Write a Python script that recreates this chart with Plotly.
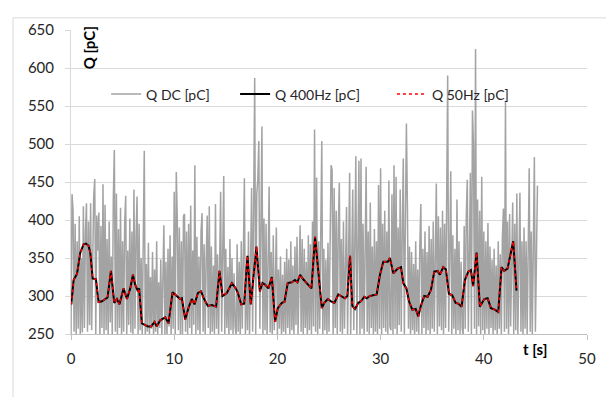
import plotly.graph_objects as go

# ---- data ----
q_dc = [
    250, 434, 412, 253, 395, 248, 372, 257, 405, 246,
    350, 252, 418, 258, 385, 422, 253, 398, 262, 422,
    255, 380, 430, 454, 250, 406, 360, 410, 244, 392,
    258, 447, 250, 420, 255, 375, 246, 398, 265, 352,
    248, 428, 492, 253, 435, 250, 388, 258, 416, 244,
    372, 253, 395, 432, 248, 360, 262, 402, 252, 385,
    246, 440, 257, 378, 431, 250, 395, 255, 350, 248,
    380, 491, 244, 342, 253, 370, 246, 325, 257, 358,
    244, 335, 253, 372, 248, 318, 258, 348, 246, 330,
    393, 250, 345, 244, 362, 260, 380, 248, 352, 257,
    437, 246, 463, 402, 255, 390, 250, 372, 244, 405,
    408, 253, 385, 248, 395, 258, 419, 246, 360, 262,
    472, 250, 378, 255, 352, 244, 385, 409, 253, 368,
    248, 348, 406, 258, 418, 246, 365, 253, 340, 250,
    421, 257, 355, 244, 372, 437, 253, 345, 458, 248,
    362, 258, 338, 246, 375, 255, 350, 250, 330, 260,
    248, 368, 253, 345, 244, 372, 257, 352, 455, 250,
    340, 255, 385, 246, 398, 442, 253, 375, 587, 248,
    434, 453, 504, 257, 453, 523, 250, 402, 255, 395,
    246, 372, 444, 252, 358, 244, 380, 255, 345, 390,
    248, 335, 257, 352, 244, 328, 253, 345, 250, 362,
    258, 348, 248, 372, 255, 340, 246, 365, 262, 378,
    250, 352, 393, 253, 375, 248, 362, 258, 345, 246,
    380, 255, 368, 250, 398, 260, 519, 253, 456, 248,
    372, 257, 385, 504, 246, 362, 255, 348, 250, 370,
    253, 392, 472, 466, 248, 442, 258, 412, 246, 388,
    449, 253, 375, 248, 398, 257, 365, 417, 250, 380,
    462, 246, 372, 440, 255, 392, 484, 250, 385, 478,
    248, 481, 257, 395, 246, 372, 470, 253, 385, 250,
    423, 258, 365, 248, 388, 253, 372, 244, 446, 257,
    468, 250, 395, 258, 412, 253, 385, 248, 452, 260,
    255, 434, 250, 472, 257, 457, 246, 390, 262, 440,
    253, 385, 481, 248, 372, 527, 415, 257, 365, 246,
    358, 255, 342, 244, 372, 253, 335, 248, 368, 421,
    250, 362, 258, 385, 246, 358, 255, 392, 248, 375,
    257, 398, 253, 385, 448, 250, 405, 260, 390, 255,
    412, 250, 395, 258, 402, 590, 253, 385, 464, 248,
    380, 257, 362, 246, 427, 255, 372, 250, 345, 258,
    248, 392, 257, 405, 453, 253, 398, 462, 250, 544,
    500, 257, 625, 250, 427, 260, 412, 248, 457, 255,
    385, 246, 372, 257, 396, 250, 365, 258, 348, 248,
    362, 255, 340, 246, 372, 257, 355, 250, 378, 415,
    253, 557, 257, 398, 248, 408, 260, 385, 423, 250,
    395, 255, 435, 250, 380, 436, 253, 372, 248, 390,
    257, 372, 250, 395, 468, 253, 385, 248, 372, 483,
    253, 398, 445,
]
t_dc = [i / 10 for i in range(len(q_dc))]  # sample times, 0.1 s step

t_ac = [
    0.03, 0.25, 0.58, 0.9, 1.22, 1.45, 1.7, 1.87, 2.1, 2.42,
    2.67, 3.0, 3.54, 3.87, 4.19, 4.45, 4.7, 5.09, 5.42, 5.74,
    6.0, 6.22, 6.49, 6.6, 6.87, 7.19, 7.45, 7.77, 8.1, 8.3,
    8.64, 9.13, 9.45, 9.84, 10.16, 10.58, 10.74, 11.07, 11.4, 11.7,
    11.97, 12.3, 12.6, 12.9, 13.26, 13.65, 14.06, 14.39, 14.68, 15.1,
    15.59, 15.97, 16.17, 16.49, 16.78, 17.1, 17.42, 17.68, 17.97, 18.3,
    18.55, 18.8, 19.13, 19.46, 19.78, 20.04, 20.43, 20.68, 21.0, 21.4,
    21.7, 21.94, 22.2, 22.5, 22.85, 23.3, 23.65, 23.97, 24.3, 24.55,
    24.88, 25.2, 25.52, 25.9, 26.23, 26.55, 26.78, 27.04, 27.26, 27.52,
    27.84, 28.1, 28.42, 28.65, 28.97, 29.3, 29.62, 29.94, 30.26, 30.7,
    30.9, 31.23, 31.66, 31.98, 32.2, 32.5, 32.75, 33.07, 33.4, 33.65,
    33.9, 34.23, 34.56, 34.88, 35.2, 35.53, 35.75, 36.07, 36.33, 36.62,
    36.94, 37.27, 37.52, 37.85, 38.17, 38.49, 38.75, 38.97, 39.3, 39.62,
    40.04, 40.37, 40.69, 41.07, 41.4, 41.72, 41.97, 42.3, 42.62, 42.85,
    43.17,
]
q_400hz = [
    289, 321, 329, 357, 368, 369, 366, 357, 323, 322,
    292, 293, 298, 333, 291, 296, 289, 310, 296, 310,
    328, 315, 306, 310, 264, 262, 260, 260, 266, 260,
    268, 272, 264, 305, 301, 296, 297, 269, 285, 296,
    289, 304, 306, 296, 287, 288, 286, 333, 300, 304,
    317, 310, 304, 289, 290, 353, 289, 321, 365, 306,
    317, 315, 310, 325, 266, 284, 291, 292, 317, 318,
    321, 318, 328, 322, 317, 310, 378, 332, 284, 291,
    296, 293, 291, 302, 300, 297, 300, 353, 287, 283,
    291, 293, 299, 297, 300, 301, 302, 328, 345, 345,
    350, 330, 336, 338, 317, 310, 293, 282, 283, 273,
    287, 300, 299, 308, 332, 333, 328, 338, 335, 303,
    301, 291, 290, 286, 321, 332, 334, 313, 357, 286,
    296, 297, 284, 282, 279, 338, 333, 336, 359, 372,
    307,
]
q_50hz = [
    289, 321, 329, 357, 368, 369, 366, 357, 323, 322,
    292, 293, 298, 333, 291, 296, 289, 310, 296, 310,
    328, 315, 306, 310, 264, 262, 260, 260, 266, 260,
    268, 272, 264, 305, 301, 296, 297, 269, 285, 296,
    289, 304, 306, 296, 287, 288, 286, 333, 300, 304,
    317, 310, 304, 289, 290, 353, 289, 321, 365, 306,
    317, 315, 310, 325, 266, 284, 291, 292, 317, 318,
    321, 318, 328, 322, 317, 310, 378, 332, 284, 291,
    296, 293, 291, 302, 300, 297, 300, 353, 287, 283,
    291, 293, 299, 297, 300, 301, 302, 328, 345, 345,
    350, 330, 336, 338, 317, 310, 293, 282, 283, 273,
    287, 300, 299, 308, 332, 333, 328, 338, 335, 303,
    301, 291, 290, 286, 321, 332, 334, 313, 357, 286,
    296, 297, 284, 282, 279, 338, 333, 336, 359, 372,
    307,
]

x_ticks = [0, 10, 20, 30, 40, 50]
y_ticks = [250, 300, 350, 400, 450, 500, 550, 600, 650]

FONT = "Lato"
TXT = "#262626"

fig = go.Figure()
fig.add_trace(go.Scatter(x=t_dc, y=q_dc, mode="lines", name="Q DC [pC]",
                         line=dict(color="#a3a3a3", width=1.5), legend="legend",
                         showlegend=True))
fig.add_trace(go.Scatter(x=t_ac, y=q_400hz, mode="lines", name="Q 400Hz [pC]",
                         line=dict(color="#000000", width=2), legend="legend2",
                         showlegend=True))
fig.add_trace(go.Scatter(x=t_ac, y=q_50hz, mode="lines", name="Q 50Hz [pC]",
                         line=dict(color="#ff0000", width=1.5, dash="3px,3px"),
                         legend="legend3", showlegend=True))

leg_common = dict(orientation="h", yanchor="middle", xanchor="left",
                  bgcolor="rgba(0,0,0,0)", font=dict(family=FONT, size=14, color=TXT),
                  itemwidth=30)

fig.update_layout(
    width=606, height=389,
    margin=dict(l=63, r=27, t=13, b=63),
    showlegend=True,
    paper_bgcolor="white", plot_bgcolor="white",
    font=dict(family=FONT, size=14, color=TXT),
    legend=dict(x=0.068, y=0.788, **leg_common),
    legend2=dict(x=0.318, y=0.788, **leg_common),
    legend3=dict(x=0.622, y=0.788, **leg_common),
    xaxis=dict(range=[0, 50], tickvals=x_ticks, showgrid=False, zeroline=False,
               showline=True, linecolor="#bfbfbf", linewidth=1,
               ticks="outside", ticklen=5, tickcolor="#bfbfbf",
               ticklabelstandoff=6, tickfont=dict(family=FONT, size=15, color=TXT)),
    yaxis=dict(range=[250, 650], tickvals=y_ticks, showgrid=True, gridcolor="#d9d9d9",
               gridwidth=1, zeroline=False, showline=True, linecolor="#d9d9d9",
               ticks="outside", ticklen=5, tickcolor="#d9d9d9",
               ticklabelstandoff=8, tickfont=dict(family=FONT, size=15, color=TXT)),
    annotations=[
        dict(text="<b>Q [pC]</b>", textangle=-90, xref="x", yref="y", x=1.75, y=626,
             xanchor="center", yanchor="middle",
             showarrow=False, font=dict(family=FONT, size=15, color="#000")),
        dict(text="<b>t [s]</b>", xref="x", yref="paper", x=45.0, y=-0.048,
             xanchor="center", yanchor="middle",
             showarrow=False, font=dict(family=FONT, size=15, color="#000")),
    ],
    shapes=[
        dict(type="line", xref="paper", yref="paper", x0=-0.1124, x1=1.3,
             y0=1.0399, y1=1.0399, line=dict(color="#d9d9d9", width=1)),
        dict(type="line", xref="paper", yref="paper", x0=-0.1124, x1=-0.1124,
             y0=1.0399, y1=-0.4, line=dict(color="#d9d9d9", width=1)),
    ],
)

fig.write_html("out.html")
